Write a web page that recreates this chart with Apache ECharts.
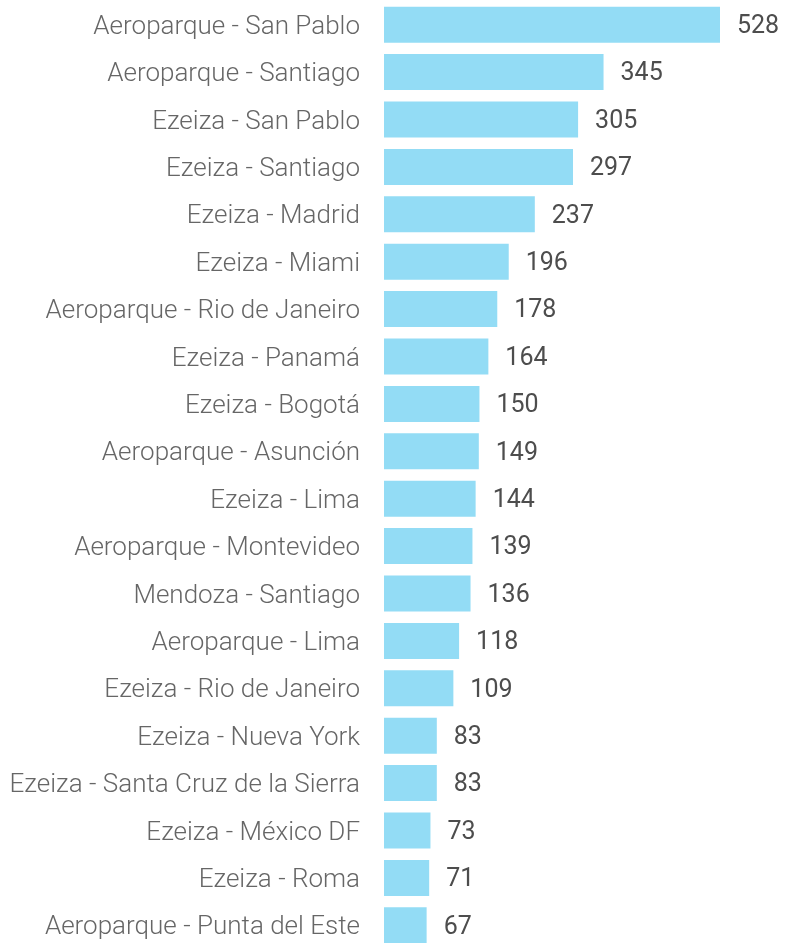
<!DOCTYPE html>
<html>
<head>
<meta charset="utf-8">
<script src="https://cdn.jsdelivr.net/npm/echarts@6/dist/echarts.min.js"></script>
<style>
html,body{margin:0;padding:0;background:#fff;overflow:hidden;}
#chart{width:787px;height:949px;}
</style>
</head>
<body>
<div id="chart"></div>
<script>
const routes = [
  "Aeroparque - San Pablo",
  "Aeroparque - Santiago",
  "Ezeiza - San Pablo",
  "Ezeiza - Santiago",
  "Ezeiza - Madrid",
  "Ezeiza - Miami",
  "Aeroparque - Rio de Janeiro",
  "Ezeiza - Panamá",
  "Ezeiza - Bogotá",
  "Aeroparque - Asunción",
  "Ezeiza - Lima",
  "Aeroparque - Montevideo",
  "Mendoza - Santiago",
  "Aeroparque - Lima",
  "Ezeiza - Rio de Janeiro",
  "Ezeiza - Nueva York",
  "Ezeiza - Santa Cruz de la Sierra",
  "Ezeiza - México DF",
  "Ezeiza - Roma",
  "Aeroparque - Punta del Este"
];
const flights = [528, 345, 305, 297, 237, 196, 178, 164, 150, 149, 144, 139, 136, 118, 109, 83, 83, 73, 71, 67];

const chart = echarts.init(document.getElementById('chart'));
chart.setOption({
  animation: false,
  grid: { left: 384, right: 67, top: 1, bottom: 0, containLabel: false, outerBoundsMode: 'none' },
  xAxis: {
    type: 'value', min: 0, max: 'dataMax',
    show: false
  },
  yAxis: {
    type: 'category',
    data: routes,
    inverse: true,
    axisLine: { show: false },
    axisTick: { show: false },
    axisLabel: {
      margin: 24,
      formatter: '{t|{value}}',
      rich: {
        t: {
          color: '#666666',
          fontFamily: 'Roboto',
          fontWeight: 300,
          fontSize: 26,
          padding: [5, 0, 0, 0]
        }
      }
    }
  },
  series: [{
    type: 'bar',
    data: flights,
    barCategoryGap: '24%',
    itemStyle: { color: '#93DCF5' },
    label: {
      show: true,
      position: 'right',
      distance: 17,
      offset: [0, 2],
      color: '#4d4d4d',
      fontFamily: 'Roboto',
      fontSize: 25
    }
  }]
});
</script>
</body>
</html>
